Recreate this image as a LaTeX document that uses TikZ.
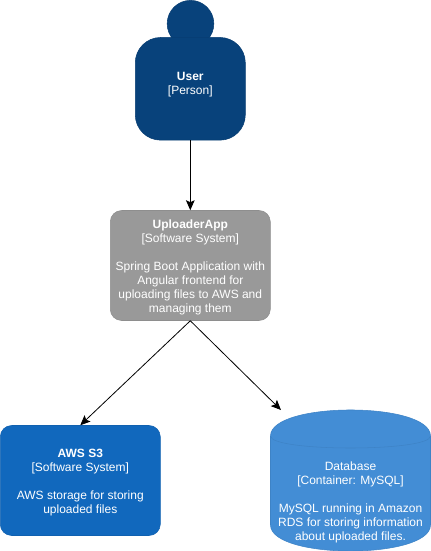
\documentclass[tikz,border=0pt]{standalone}
\usepackage{fontspec}
\setmainfont{Liberation Sans}
\usetikzlibrary{arrows.meta}
\definecolor{personblue}{HTML}{08427B}
\definecolor{appgrey}{HTML}{999999}
\definecolor{extblue}{HTML}{1168BD}
\definecolor{dbblue}{HTML}{438DD5}
\begin{document}
\begin{tikzpicture}[x=0.75pt, y=-0.75pt, >={Stealth[length=7.5pt, width=6.5pt, inset=1.5pt]}]
\tikzstyle{box}=[rectangle, rounded corners=8.5pt, inner sep=0pt, line width=0.4pt, minimum width=120pt, minimum height=82.5pt]
\tikzstyle{lbl}=[inner sep=0pt, align=center, text=white, font=\fontsize{9}{10.5}\selectfont]
\useasboundingbox (0,0) rectangle (431,551);

\node[circle, fill=personblue, draw=personblue!93!black, line width=0.4pt, minimum size=35pt, inner sep=0pt] (Head) at (190.5,23.7) {};
\node[box, rounded corners=19pt, fill=personblue, draw=personblue!93!black, minimum width=82.5pt, minimum height=77pt] (User) at (190.3,88.8) {};
\node[lbl] (UserText) at (190.3,84.5) {\textbf{User}\\{}[Person]};

\node[box, fill=appgrey, draw=appgrey!93!black] (App) at (190.3,265.5) {};
\node[lbl] (AppText) at (190.3,267.3) {\textbf{UploaderApp}\\{}[Software System]\\[10.5pt]Spring Boot Application with\\Angular frontend for\\uploading files to AWS and\\managing them};

\node[box, fill=extblue, draw=extblue!93!black] (S3) at (80.3,480.5) {};
\node[lbl] (S3Text) at (80.3,482.2) {\textbf{AWS S3}\\{}[Software System]\\[10.5pt]AWS storage for storing\\uploaded files};

% cylinder
\draw[fill=dbblue, draw=dbblue!93!black, line width=0.4pt] (270.5,436) .. controls (270.5,401.3) and (430.5,401.3) .. (430.5,436) -- (430.5,525) .. controls (430.5,559.7) and (270.5,559.7) .. (270.5,525) -- cycle;
\draw[draw=dbblue!93!black, line width=0.4pt] (270.5,436) .. controls (270.5,452) and (430.5,452) .. (430.5,436);
\node[lbl] (DB) at (350.5,502.4) {Database\\{}[Container: MySQL]\\[10.5pt]MySQL running in Amazon\\RDS for storing information\\about uploaded files.};
\coordinate (DBtop) at (281,410);

\draw[->, line width=0.6pt] (User) -- (App);
\draw[->, line width=0.6pt] (App.south) -- (S3.north);
\draw[->, line width=0.6pt] (App.south) -- (DBtop);
\end{tikzpicture}
\end{document}
